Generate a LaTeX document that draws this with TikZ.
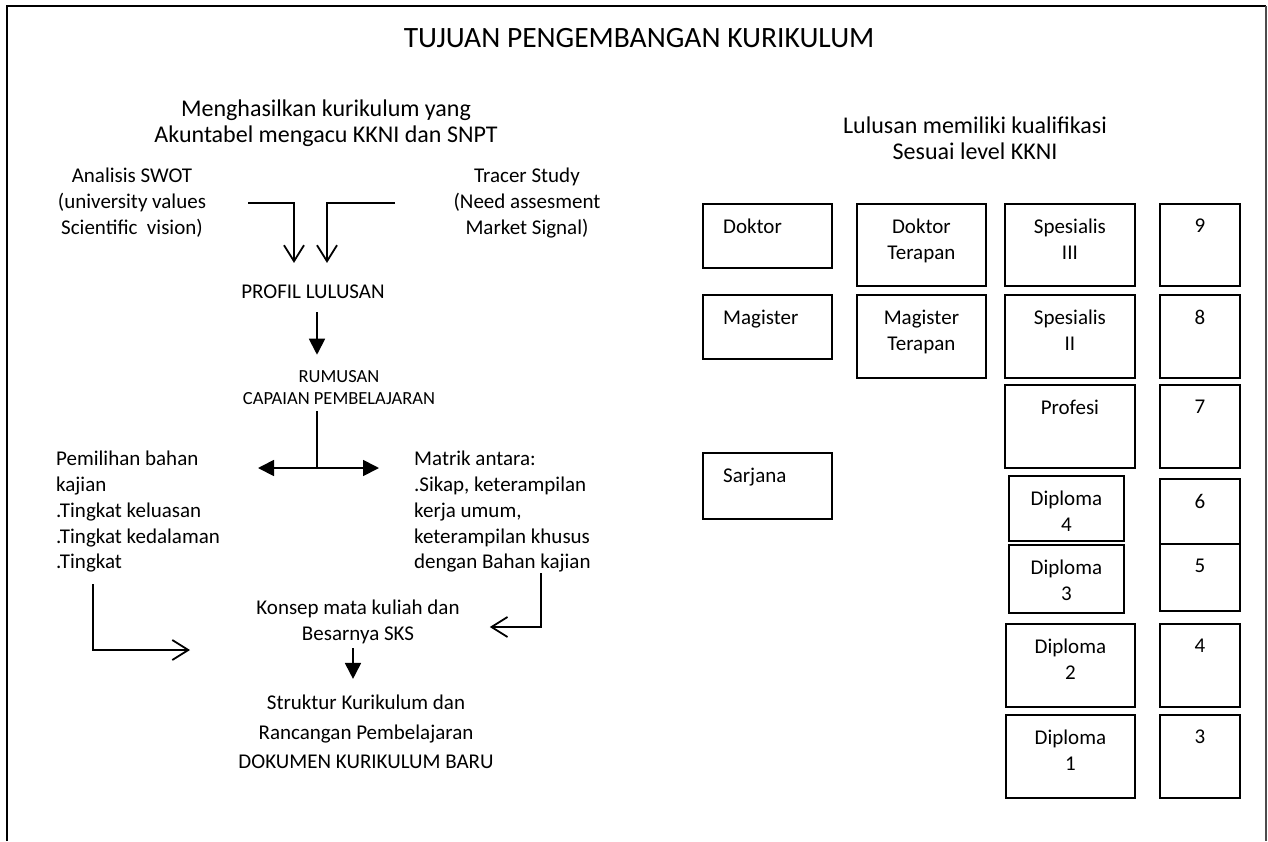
\documentclass[tikz,border=0pt]{standalone}
\usepackage{fontspec}
\setmainfont{Carlito}
\usetikzlibrary{arrows.meta,positioning}

\begin{document}
\begin{tikzpicture}[x=1pt,y=-1pt,
  every node/.style={font=\fontsize{21}{26}\selectfont,inner sep=0pt},
  txt/.style={align=center},
  lft/.style={align=left,anchor=north west},
  kecil/.style={font=\fontsize{18.5}{22}\selectfont},
  besar/.style={font=\fontsize{24}{26}\selectfont},
  flow/.style={line width=1.8pt},
  barb/.style={flow,-{Straight Barb[length=16pt,width=20pt]}},
  panah/.style={flow,-{Triangle[length=16pt,width=16pt]}},
  lvlbox/.style={draw,line width=1.8pt,anchor=north west,inner sep=0pt},
  kiri/.style={label={[anchor=north west,xshift=21pt,yshift=-16pt,align=left]north west:#1}},
  tengah/.style={label={[anchor=north,yshift=-16pt,align=center]north:#1}}]

  \useasboundingbox (0,0) rectangle (1268,841);

  % bingkai
  \draw[line width=2pt] (7,841) -- (7,6) -- (1266,6);
  \draw[line width=1.3pt,black!70] (1266,6) -- (1266,841);

  % judul
  \node[txt,font=\fontsize{29.5}{34}\selectfont] (judul) at (639,38) {TUJUAN PENGEMBANGAN KURIKULUM};
  \node[txt,besar] (tujuan) at (326,123) {Menghasilkan kurikulum yang\\Akuntabel mengacu KKNI dan SNPT};
  \node[txt,besar] (lulusan) at (975,138) {Lulusan memiliki kualifikasi\\Sesuai level KKNI};

  % alur kiri
  \node[txt] (swot) at (132,203) {Analisis SWOT\\(university values\\Scientific\ \ vision)};
  \node[txt] (tracer) at (527,203) {Tracer Study\\(Need assesment\\Market Signal)};
  \node[txt] (profil) at (313,292) {PROFIL LULUSAN};
  \node[txt,kecil] (rumusan) at (339,388) {RUMUSAN\\CAPAIAN PEMBELAJARAN};
  \node[lft,font=\fontsize{21}{25.75}\selectfont] (pilih) at (56,451) {Pemilihan bahan\\kajian\\.Tingkat keluasan\\.Tingkat kedalaman\\.Tingkat};
  \node[lft,font=\fontsize{21}{25.75}\selectfont] (matrik) at (414,451) {Matrik antara:\\.Sikap, keterampilan\\kerja umum,\\keterampilan khusus\\dengan Bahan kajian};
  \node[txt] (konsep) at (358,622) {Konsep mata kuliah dan\\Besarnya SKS};
  \node[txt,font=\fontsize{21}{29.5}\selectfont] (struktur) at (366,732) {Struktur Kurikulum dan\\Rancangan Pembelajaran\\DOKUMEN KURIKULUM BARU};

  \coordinate (swot-a) at (248,203);
  \coordinate (tracer-a) at (395,203);
  \coordinate (cabang) at (317,468);
  \coordinate (kiri-a) at (93,584);
  \coordinate (kiri-b) at (190,650);
  \coordinate (kanan-a) at (541,573);

  \draw[barb] (swot-a) -| ([xshift=-19pt,yshift=22pt]profil.north);
  \draw[barb] (tracer-a) -| ([xshift=14pt,yshift=22pt]profil.north);
  \draw[panah,shorten <=13pt,shorten >=16pt] ([xshift=4pt]profil.south) -- ([xshift=4pt]profil.south |- rumusan.north);
  \draw[flow] ([xshift=-22pt,yshift=-6pt]rumusan.south) -- (cabang);
  \draw[panah] (cabang) -- ++(-59,0);
  \draw[panah] (cabang) -- ++(62,0);
  \draw[barb] (kiri-a) |- (kiri-b);
  \draw[barb] (kanan-a) |- ([xshift=30pt,yshift=-5pt]konsep.east);
  \draw[panah,shorten <=4pt,shorten >=16pt] ([xshift=-5pt]konsep.south) -- ([xshift=-5pt]konsep.south |- struktur.north);

  % jenjang
  \node[lvlbox,minimum width=129pt,minimum height=64pt,kiri=Doktor] (doktor) at (702,203) {};
  \node[lvlbox,minimum width=129pt,minimum height=82pt,tengah={Doktor\\Terapan}] (dokter) at (856,203) {};
  \node[lvlbox,minimum width=130pt,minimum height=82pt,tengah={Spesialis\\III}] (sp3) at (1004,203) {};
  \node[lvlbox,minimum width=129pt,minimum height=64pt,kiri=Magister] (magister) at (702,294) {};
  \node[lvlbox,minimum width=129pt,minimum height=83pt,tengah={Magister\\Terapan}] (magter) at (856,294) {};
  \node[lvlbox,minimum width=130pt,minimum height=83pt,tengah={Spesialis\\II}] (sp2) at (1004,294) {};
  \node[lvlbox,minimum width=130pt,minimum height=83pt,tengah=Profesi] (profesi) at (1004,384) {};
  \node[lvlbox,minimum width=129pt,minimum height=66pt,kiri=Sarjana] (sarjana) at (702,452) {};
  \node[lvlbox,minimum width=115pt,minimum height=65pt,tengah={Diploma\\4}] (d4) at (1008,475) {};
  \node[lvlbox,minimum width=115pt,minimum height=68pt,tengah={Diploma\\3}] (d3) at (1008,544) {};
  \node[lvlbox,minimum width=129pt,minimum height=83pt,tengah={Diploma\\2}] (d2) at (1005,623) {};
  \node[lvlbox,minimum width=129pt,minimum height=83pt,tengah={Diploma\\1}] (d1) at (1005,714) {};

  \foreach \lv/\ya/\tinggi in {9/203/82,8/294/83,7/384/83,6/478/65,5/543/67,4/623/83,3/714/83}
    \node[lvlbox,minimum width=80pt,minimum height=\tinggi*1pt,tengah=\lv] (level\lv) at (1159,\ya) {};

\end{tikzpicture}
\end{document}
